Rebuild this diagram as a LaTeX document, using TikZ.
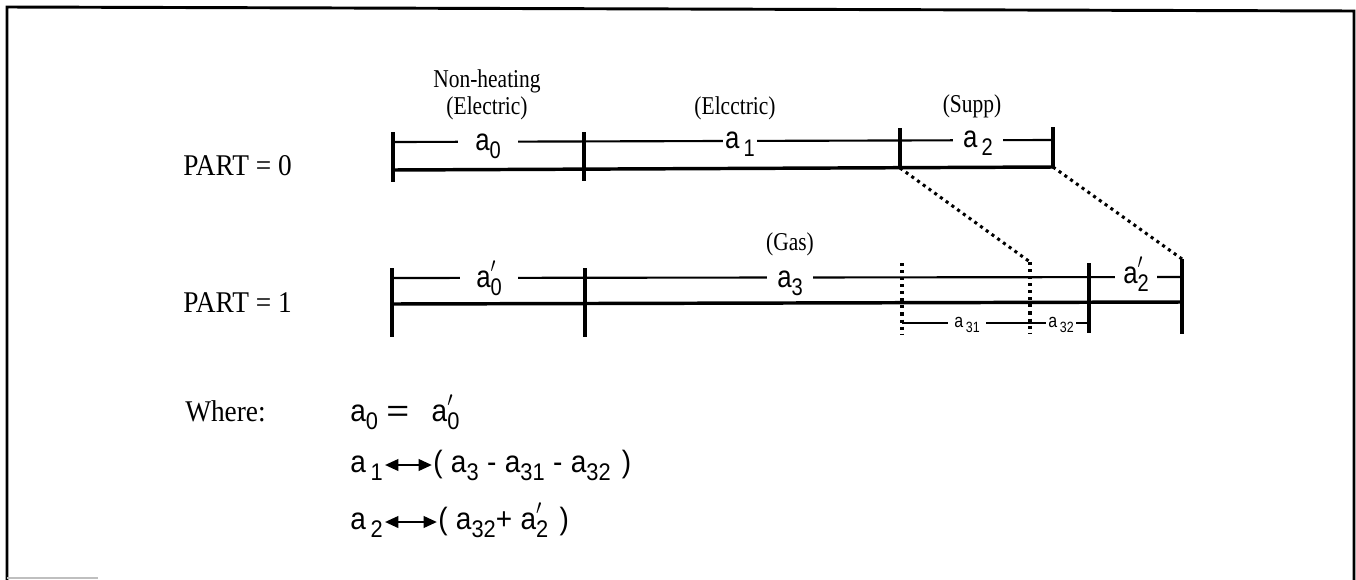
\documentclass[tikz,border=0pt]{standalone}
\usepackage{fontspec}
\setmainfont{Liberation Serif}
\newfontfamily\lsans{Liberation Sans}
\usetikzlibrary{arrows.meta,calc}
\newcommand\fsz[2]{\fontsize{#1}{#2}\selectfont}
\newcommand\subs[1]{\raisebox{-0.5ex}{\scalebox{0.78}{#1}}}
\newcommand\prm{\rlap{\raisebox{0.2ex}{$^{\prime}$}}}
\newcommand\tall[1]{\scalebox{0.92}[1.1]{#1}}
\newcommand\stretchy[1]{\scalebox{1}[1.1]{#1}}
\newcommand\weq{\scalebox{1.4}[1]{=}}
\begin{document}
\begin{tikzpicture}[x=0.75pt,y=-0.75pt,
 frame/.style={line width=2.2pt},
 tick/.style={line width=2.3pt},
 bar/.style={line width=2.6pt},
 dimline/.style={line width=1.6pt},
 dotline/.style={line width=2.3pt, dash pattern=on 2.3pt off 3pt},
 alab/.style={font=\lsans\fsz{21pt}{24pt}, fill=white, inner sep=0pt, anchor=base},
 slab/.style={font=\lsans\fsz{13pt}{15pt}, fill=white, inner sep=0pt, anchor=base},
 headtxt/.style={font=\fsz{17.5pt}{20pt}, align=center, inner sep=0pt},
 sidetxt/.style={font=\fsz{20.5pt}{24pt}, anchor=base west, inner sep=0pt},
 eqtxt/.style={font=\lsans\fsz{21pt}{24pt}, anchor=base west, inner sep=0pt},
 dbl/.style={line width=2pt, {Triangle[length=10pt,width=8.5pt]}-{Triangle[length=10pt,width=8.5pt]}}
]
\useasboundingbox (0,0) rectangle (1356,579);
% frame
\draw[frame] (7,580) -- (7,7) -- (1354,11) -- (1354,580);
\draw[gray!50,line width=1pt] (7,578) -- (98,578);

% ---------- PART = 0 ----------
\coordinate (p0c) at (900,168);
\coordinate (p0d) at (1053,167);
\draw[tick] (393,132) -- (393,182);
\draw[tick] (584,132) -- (584,181);
\draw[tick] (900,128) -- (p0c);
\draw[tick] (1053,127) -- (p0d);
\draw[bar] (393,170) -- (1053,167);
\draw[dimline] (393,142) -- (1053,140);

\node[alab, minimum width=45pt] (a0) at (488,150) {\tall{a\subs{0}}};
\node[alab, minimum width=25pt] (a1) at (740,148) {\tall{a\,\subs{1}}};
\node[alab, minimum width=37pt] (a2) at (978,147) {\tall{a\,\subs{2}}};

\node[headtxt] (nh) at (487,81) {\tall{Non-heating}};
\node[headtxt] (el0) at (487,108) {\tall{(Electric)}};
\node[headtxt] (el1) at (735,108) {\tall{(Elcctric)}};
\node[headtxt] (sup) at (972,106) {\tall{(Supp)}};

\node[sidetxt] (part0) at (183,175) {\stretchy{PART = 0}};

% ---------- PART = 1 ----------
\coordinate (q1c) at (1030,262);
\coordinate (q1d) at (1182,259);
\draw[tick] (392,268) -- (392,337);
\draw[tick] (585,268) -- (585,337);
\draw[tick] (1089,263) -- (1089,333);
\draw[tick] (q1d) -- (1182,334);
\draw[dotline] (902,263) -- (902,334);
\draw[dotline] (q1c) -- (1030,334);
\draw[bar] (392,304) -- (1182,302);
\draw[dimline] (392,278) -- (1182,277);
\draw[dimline] (902,323) -- (1089,323);

\node[alab, minimum width=43pt] (a0p) at (489,287) {\tall{a\prm\subs{0}}};
\node[alab, minimum width=34pt] (a3) at (790,287) {\tall{a\subs{3}}};
\node[alab, minimum width=31pt] (a2p) at (1136,283) {\tall{a\prm\subs{2}}};
\node[slab, minimum width=29pt] (a31) at (967,327) {\tall{a\,\subs{31}}};
\node[slab, minimum width=23pt] (a32) at (1061,327) {\tall{a\,\subs{32}}};

\node[headtxt] (gas) at (790,244) {\tall{(Gas)}};
\node[sidetxt] (part1) at (183,312) {\stretchy{PART = 1}};

% dotted connectors
\draw[dotline] (p0c) -- (q1c);
\draw[dotline] (p0d) -- (q1d);

% ---------- Where ----------
\node[sidetxt] (where) at (185,421) {\stretchy{Where:}};
\node[eqtxt] (e0) at (350,421) {\stretchy{a\subs{0}\hspace{0.3em}\weq\hspace{0.8em}a\prm\subs{0}}};

\node[eqtxt] (e1l) at (350,472) {\stretchy{a\,\subs{1}}};
\node[eqtxt] (e1r) at (433,472) {\stretchy{(\hspace{0.3em}a\subs{3}\hspace{0.3em}-\hspace{0.3em}a\subs{31}\hspace{0.3em}-\hspace{0.3em}a\subs{32}\hspace{0.4em})}};
\draw[dbl] ($(e1l.base east)+(2,-7)$) -- ($(e1r.base west)+(-1,-7)$);

\node[eqtxt] (e2l) at (350,529) {\stretchy{a\,\subs{2}}};
\node[eqtxt] (e2r) at (438,529) {\stretchy{(\hspace{0.3em}a\subs{32}+\hspace{0.3em}a\prm\subs{2}\hspace{0.4em})}};
\draw[dbl] ($(e2l.base east)+(2,-7)$) -- ($(e2r.base west)+(-1,-7)$);
\end{tikzpicture}
\end{document}
